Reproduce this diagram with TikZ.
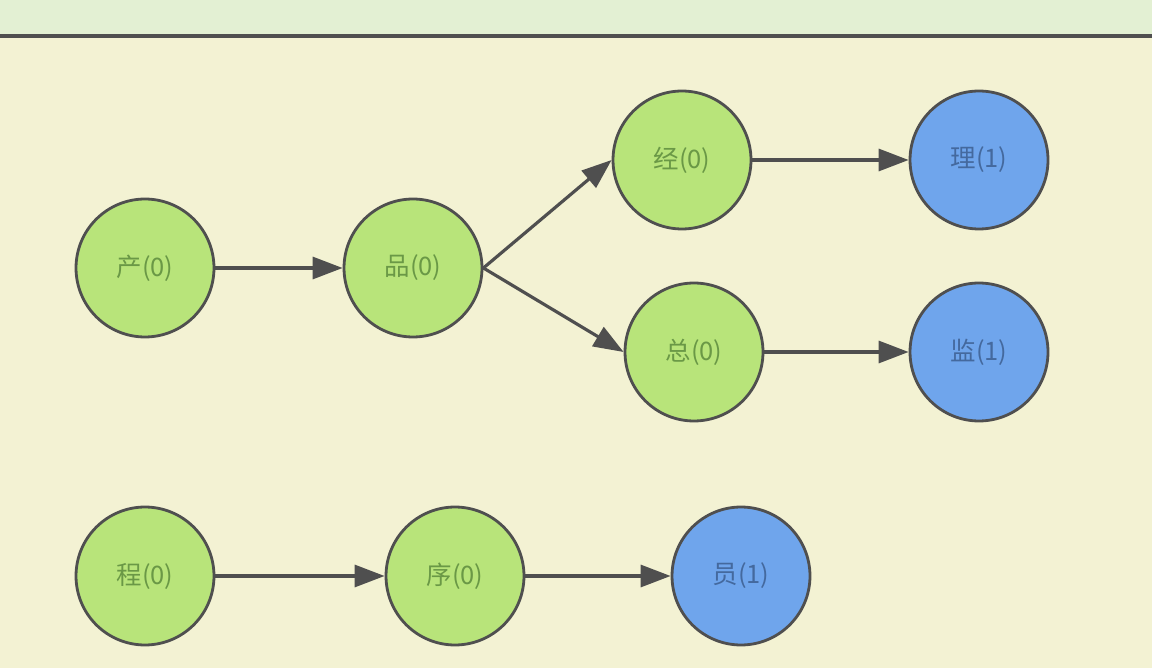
\documentclass[tikz,border=0pt]{standalone}
\usepackage{fontspec}
\setmainfont{Noto Sans CJK SC}
\usetikzlibrary{arrows.meta}
\definecolor{paper}{HTML}{F3F2D3}
\definecolor{band}{HTML}{E3F0D3}
\definecolor{rim}{HTML}{4F4F4F}
\definecolor{leaf}{HTML}{B8E47A}
\definecolor{leaftext}{HTML}{6A9846}
\definecolor{sky}{HTML}{6FA5EC}
\definecolor{skytext}{HTML}{44699E}
\begin{document}
\begin{tikzpicture}[x=0.02cm, y=-0.02cm,
  zero/.style={circle, draw=rim, line width=1.6pt, fill=leaf, minimum size=2.76cm, inner sep=0pt, text=leaftext, font=\fontsize{14.5}{16}\selectfont},
  one/.style={zero, fill=sky, text=skytext},
  link/.style={draw=rim, line width=1.8pt, -{Triangle[length=0.6cm, width=0.44cm]}}]
% Page and top band
\useasboundingbox (0,0) rectangle (1152,668);
\fill[paper] (-2,-2) rectangle (1154,670);
\fill[band] (-2,-2) rectangle (1154,36);
\draw[rim, line width=1.8pt] (-2,36) -- (1154,36);

% First word
\node[zero] (chan) at (145,268) {产(0)};
\node[zero] (pin) at (413,268) {品(0)};
\node[zero] (jing) at (682,160) {经(0)};
\node[one] (li) at (979,160) {理(1)};
\node[zero] (zong) at (694,352) {总(0)};
\node[one] (jian) at (979,352) {监(1)};

% Second word
\node[zero] (cheng) at (145,576) {程(0)};
\node[zero] (xu) at (455,576) {序(0)};
\node[one] (yuan) at (741,576) {员(1)};

% Arrows
\draw[link] (chan) -- (pin);
\draw[link] (pin.east) -- (jing.west);
\draw[link] (pin.east) -- (zong.west);
\draw[link] (jing) -- (li);
\draw[link] (zong) -- (jian);
\draw[link] (cheng) -- (xu);
\draw[link] (xu) -- (yuan);
\end{tikzpicture}
\end{document}
